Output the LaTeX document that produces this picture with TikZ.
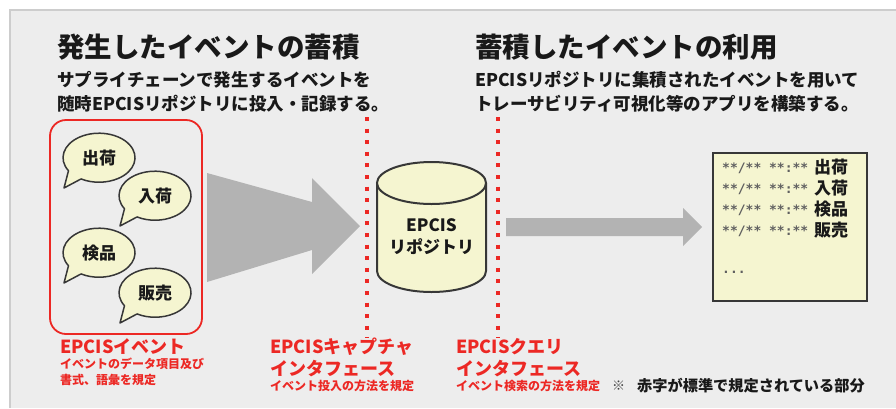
\documentclass[tikz,border=0pt]{standalone}
\usepackage{fontspec}
\setmainfont{Noto Sans CJK JP}
\newfontfamily\monof{DejaVu Sans Mono}
\definecolor{panel}{RGB}{237,237,237}
\definecolor{edgegray}{RGB}{205,205,205}
\definecolor{arrowgray}{RGB}{179,179,179}
\definecolor{epred}{RGB}{236,40,36}
\definecolor{cream}{RGB}{245,245,208}
\definecolor{ink}{RGB}{55,55,55}
\definecolor{astgray}{RGB}{95,95,95}
\tikzset{
  titletext/.style={font=\bfseries\fontsize{27.5}{30}\selectfont, anchor=west, inner sep=0, text=black!90},
  subtext/.style={font=\bfseries\fontsize{17.5}{20}\selectfont, anchor=west, inner sep=0, text=black!90},
  bubbletext/.style={font=\bfseries\fontsize{17}{19}\selectfont, inner sep=0, text=black!90},
  bubbleshape/.style={fill=cream, draw=ink, line width=1.5pt, line join=round},
  redbig/.style={font=\bfseries\fontsize{18}{20}\selectfont, anchor=west, inner sep=0, text=epred},
  redsmall/.style={font=\bfseries\fontsize{12}{14}\selectfont, anchor=west, inner sep=0, text=epred},
  monotext/.style={font=\monof\bfseries\fontsize{13}{15}\selectfont, anchor=west, inner sep=0, text=astgray},
  docjp/.style={font=\bfseries\fontsize{17}{19}\selectfont, anchor=west, inner sep=0, text=black!90},
  reddots/.style={draw=epred, line width=4pt, dash pattern=on 4pt off 7.6pt},
}
\newcommand\mybubble[4]{%
  \path[bubbleshape] (#1-30.5,#2+12.7) arc[start angle=148, end angle=480, x radius=36, y radius=24.5]
     -- (#1-35,#2+30) -- cycle;
  \node[bubbletext] (#3) at (#1,#2) {#4};
}
\begin{document}
\begin{tikzpicture}[x=1pt,y=-1pt]
\useasboundingbox (0,0) rectangle (896,408);
\fill[white] (0,0) rectangle (896,408);
\fill[panel] (10,10) rectangle (896,408);
\draw[edgegray, line width=2pt] (10,408) -- (10,10) -- (896,10);

% titles
\node[titletext] (t1) at (57,47) {発生したイベントの蓄積};
\node[subtext] (s1a) at (57,80) {サプライチェーンで発生するイベントを};
\node[subtext] (s1b) at (57,104) {随時EPCISリポジトリに投入・記録する。};
\node[titletext] (t2) at (475,47) {蓄積したイベントの利用};
\node[subtext] (s2a) at (475,80) {EPCISリポジトリに集積されたイベントを用いて};
\node[subtext] (s2b) at (475,104) {トレーサビリティ可視化等のアプリを構築する。};

% red event box
\draw[epred, line width=1.8pt, rounded corners=16pt] (50,120) rectangle (202,334);
\mybubble{99}{158}{b1}{出荷}
\mybubble{155}{196}{b2}{入荷}
\mybubble{99}{253}{b3}{検品}
\mybubble{155}{293}{b4}{販売}

% big arrow
\fill[arrowgray] (207,173) -- (312,202) -- (312,178) -- (360,226) -- (312,274) -- (312,250) -- (207,282) -- cycle;

% red dotted lines
\draw[reddots] (367,117) -- (367,338);
\draw[reddots] (498,117) -- (498,338);

% cylinder
\path[fill=cream, draw=ink, line width=2pt] (377,183) -- (377,271) arc[start angle=180, end angle=0, x radius=54.5, y radius=21] -- (486,183);
\path[fill=cream, draw=ink, line width=2pt] (431.5,183) ellipse[x radius=54.5, y radius=21];
\node[bubbletext] (repo1) at (431.5,225) {EPCIS};
\node[bubbletext] (repo2) at (431.5,247) {リポジトリ};

% thin arrow
\fill[arrowgray] (506,218) -- (683,218) -- (683,208) -- (702,227) -- (683,246) -- (683,236) -- (506,236) -- cycle;

% document
\node[draw=ink, fill=cream, line width=2pt, minimum width=154, minimum height=148, inner sep=0] (doc) at (790,227) {};
\node[monotext] (d1a) at (722,168) {**/** **:**};
\node[docjp] (d1b) at (814,167) {出荷};
\node[monotext] (d2a) at (722,189) {**/** **:**};
\node[docjp] (d2b) at (814,188) {入荷};
\node[monotext] (d3a) at (722,210) {**/** **:**};
\node[docjp] (d3b) at (814,209) {検品};
\node[monotext] (d4a) at (722,231) {**/** **:**};
\node[docjp] (d4b) at (814,230) {販売};
\node[monotext] (d5) at (722,272) {...};

% bottom labels
\node[redbig] (l1) at (60,347) {EPCISイベント};
\node[redsmall] (l1a) at (60,364) {イベントのデータ項目及び};
\node[redsmall] (l1b) at (60,380) {書式、語彙を規定};
\node[redbig] (l2) at (270,347) {EPCISキャプチャ};
\node[redbig] (l2a) at (270,369) {インタフェース};
\node[redsmall] (l2b) at (270,386) {イベント投入の方法を規定};
\node[redbig] (l3) at (456,347) {EPCISクエリ};
\node[redbig] (l3a) at (456,369) {インタフェース};
\node[redsmall] (l3b) at (456,386) {イベント検索の方法を規定};
\node[anchor=west, inner sep=0, font=\fontsize{13}{15}\selectfont, text=black!75] (note1) at (612,386) {※};
\node[anchor=west, inner sep=0, font=\bfseries\fontsize{15.2}{17}\selectfont, text=black!90] (note2) at (637,386) {赤字が標準で規定されている部分};
\end{tikzpicture}
\end{document}
